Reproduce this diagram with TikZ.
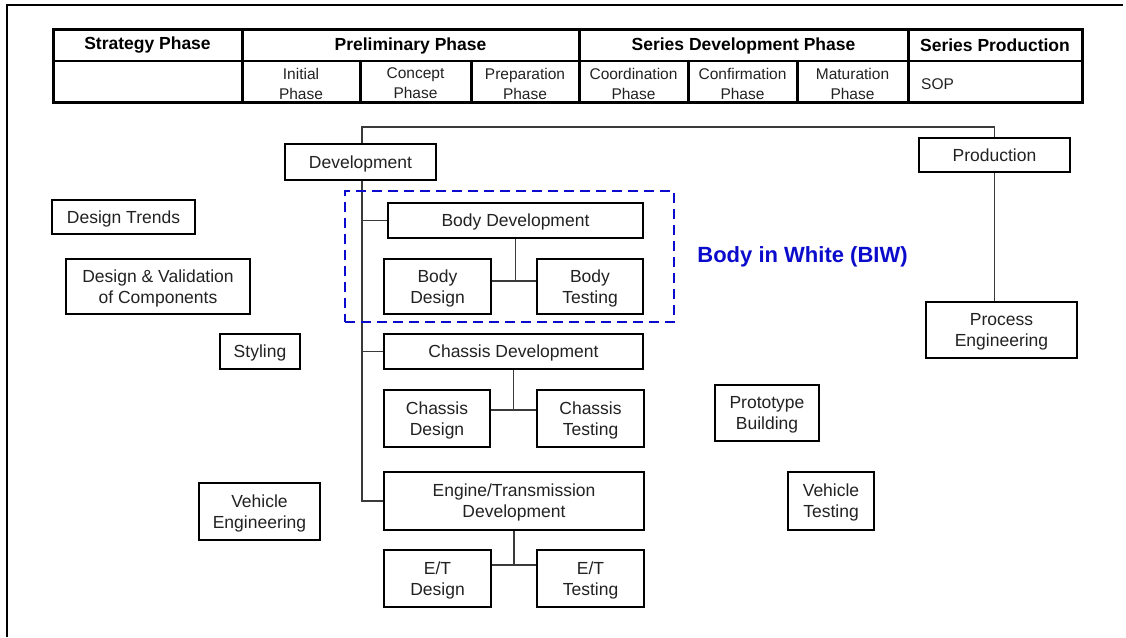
\documentclass[tikz,border=0pt]{standalone}
\usepackage{fontspec}
\setmainfont{Liberation Sans}
\usetikzlibrary{backgrounds}

\definecolor{ink}{HTML}{222222}
\definecolor{wire}{HTML}{3A3A3A}
\definecolor{biwblue}{HTML}{0B0BCC}

\newcommand{\boxfont}{\fontsize{17.5}{21}\selectfont}
\newcommand{\hdfont}{\fontsize{15.5}{20}\selectfont}
\newcommand{\hdboldfont}{\fontsize{17.5}{20}\selectfont\bfseries}

\tikzset{
  unitbox/.style={draw=black, line width=2.2pt, fill=white, inner sep=0pt,
    align=center, font=\boxfont, text=ink, text depth=0pt},
  wire/.style={draw=wire, line width=1.3pt},
  tabline/.style={draw=black, line width=3pt},
  tabthin/.style={draw=black, line width=2.4pt},
  hdbold/.style={inner sep=0pt, font=\hdboldfont, text=black},
  hdcell/.style={inner sep=0pt, align=center, font=\hdfont, text=ink},
  biwframe/.style={draw=biwblue, line width=2.8pt, dash pattern=on 10pt off 6pt,
    inner sep=0pt},
  biwlabel/.style={inner sep=0pt, text=biwblue, font=\fontsize{22}{24}\selectfont\bfseries}
}

\begin{document}
\begin{tikzpicture}[x=1pt, y=-1pt]
\useasboundingbox (0,0) rectangle (1126,637);

% page frame (top and left edges)
\draw[line width=2.5pt] (1123,5) -- (7,5) -- (7,637);

% ---------- phase table ----------
\draw[tabline] (53,29) rectangle (1082,102);
\draw[tabthin] (53,61) -- (1082,61);
\foreach \x in {242,579,908} \draw[tabline] (\x,29) -- (\x,102);
\foreach \x in {360,471,688,797} \draw[tabline] (\x,61) -- (\x,102);

\node[hdbold] (hstrat) at (147.5,45.5) {Strategy Phase};
\node[hdbold] (hprel)  at (410.5,45.5) {Preliminary Phase};
\node[hdbold] (hser)   at (743.5,45.5) {Series Development Phase};
\node[hdbold] (hprod)  at (995,45.5)   {Series Production};

\node[hdcell] (cinit)  at (301,83.5)   {Initial\\Phase};
\node[hdcell] (cconc)  at (415.5,83.5) {Concept\\Phase};
\node[hdcell] (cprep)  at (525,83.5)   {Preparation\\Phase};
\node[hdcell] (ccoord) at (633.5,83.5) {Coordination\\Phase};
\node[hdcell] (cconf)  at (742.5,83.5) {Confirmation\\Phase};
\node[hdcell] (cmat)   at (852.5,83.5) {Maturation\\Phase};
\node[hdcell, anchor=west] (csop) at (921,84) {SOP};

% ---------- organisation boxes ----------
\node[unitbox, minimum width=151, minimum height=36] (dev)      at (360.5,162)  {Development};
\node[unitbox, minimum width=151, minimum height=34] (prod)     at (994.5,155)  {Production};
\node[unitbox, minimum width=151, minimum height=56] (proc)     at (1001.5,330) {Process\\Engineering};

\node[unitbox, minimum width=143, minimum height=34] (trends)   at (123.5,217)  {Design Trends};
\node[unitbox, minimum width=184, minimum height=55] (dval)     at (158,286.5)  {Design \& Validation\\of Components};
\node[unitbox, minimum width=80,  minimum height=35] (styling)  at (260,351.5)  {Styling};
\node[unitbox, minimum width=121, minimum height=57] (veheng)   at (259.5,511.5) {Vehicle\\Engineering};
\node[unitbox, minimum width=104, minimum height=56] (proto)    at (767,413)    {Prototype\\Building};
\node[unitbox, minimum width=86,  minimum height=58] (vehtest)  at (831,501)    {Vehicle\\Testing};

\node[unitbox, minimum width=255, minimum height=35] (bodydev)  at (515.5,220.5) {Body Development};
\node[unitbox, minimum width=107, minimum height=55] (bodydes)  at (437.5,286.5) {Body\\Design};
\node[unitbox, minimum width=106, minimum height=55] (bodytest) at (590,286.5)   {Body\\Testing};

\node[unitbox, minimum width=259, minimum height=35] (chdev)    at (513.5,351.5) {Chassis Development};
\node[unitbox, minimum width=106, minimum height=57] (chdes)    at (437,418.5)   {Chassis\\Design};
\node[unitbox, minimum width=107, minimum height=57] (chtest)   at (590.5,418.5) {Chassis\\Testing};

\node[unitbox, minimum width=260, minimum height=58] (etdev)    at (514,501)     {Engine/Transmission\\Development};
\node[unitbox, minimum width=107, minimum height=57] (etdes)    at (437.5,578.5) {E/T\\Design};
\node[unitbox, minimum width=107, minimum height=57] (ettest)   at (590.5,578.5) {E/T\\Testing};

% body in white grouping
\node[biwframe, minimum width=329, minimum height=131] (biw) at (509.5,256.5) {};
\node[biwlabel] (biwtext) at (802.5,257) {Body in White (BIW)};

% ---------- connectors ----------
\coordinate (trunktop) at (362,127);
\coordinate (bj) at (515,281);
\coordinate (cj) at (513.5,410);
\coordinate (ej) at (514,565);

\begin{scope}[on background layer]
  \draw[wire] (prod.north) |- (trunktop) -- (trunktop |- etdev.west) -- (etdev.west);
  \draw[wire] (trunktop |- bodydev.west) -- (bodydev.west);
  \draw[wire] (trunktop |- chdev.west) -- (chdev.west);
  \draw[wire] (prod.south) -- (prod.south |- proc.north);

  \draw[wire] (bodydev.south) -- (bodydev.south |- bj);
  \draw[wire] (bodydes.east |- bj) -- (bodytest.west |- bj);

  \draw[wire] (chdev.south) -- (chdev.south |- cj);
  \draw[wire] (chdes.east |- cj) -- (chtest.west |- cj);

  \draw[wire] (etdev.south) -- (etdev.south |- ej);
  \draw[wire] (etdes.east |- ej) -- (ettest.west |- ej);
\end{scope}
\end{tikzpicture}
\end{document}
